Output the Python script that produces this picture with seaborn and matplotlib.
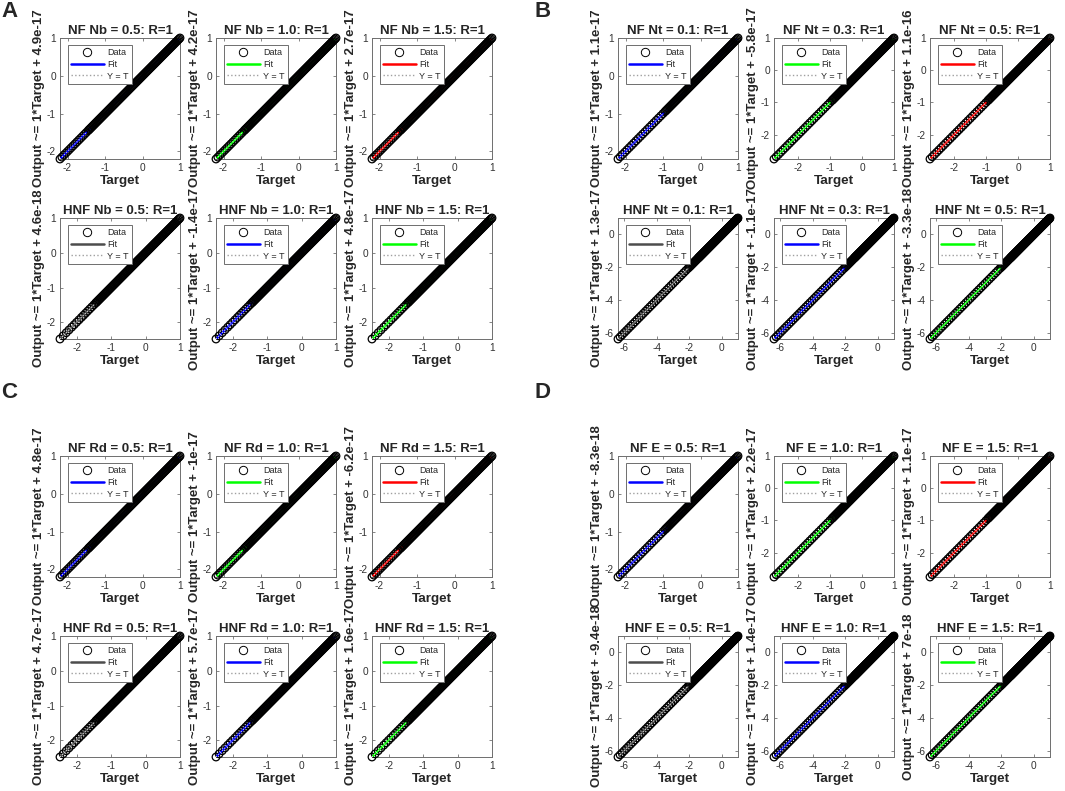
import matplotlib
matplotlib.use('Agg')
import matplotlib.pyplot as plt
from matplotlib.lines import Line2D
from matplotlib.ticker import MultipleLocator
import seaborn as sns

# --- target values (output == target, R=1) ---
# upper stretch where the circles pile up into a solid band
dense_upper = [-0.95, -0.925, -0.9, -0.875, -0.85, -0.825, -0.8, -0.775, -0.75, -0.725,
               -0.7, -0.675, -0.65, -0.625, -0.6, -0.575, -0.55, -0.525, -0.5, -0.475,
               -0.45, -0.425, -0.4, -0.375, -0.35, -0.325, -0.3, -0.275, -0.25, -0.225,
               -0.2, -0.175, -0.15, -0.125, -0.1, -0.075, -0.05, -0.025, 0.0, 0.025,
               0.05, 0.075, 0.1, 0.125, 0.15, 0.175, 0.2, 0.225, 0.25, 0.275,
               0.3, 0.325, 0.35, 0.375, 0.4, 0.425, 0.45, 0.475, 0.5, 0.525,
               0.55, 0.575, 0.6, 0.625, 0.65, 0.675, 0.7, 0.725, 0.75, 0.775,
               0.8, 0.825, 0.85, 0.875, 0.9, 0.925, 0.95, 0.975, 1.0]
dense_mid = [-1.45, -1.425, -1.4, -1.375, -1.35, -1.325, -1.3, -1.275, -1.25, -1.225,
             -1.2, -1.175, -1.15, -1.125, -1.1, -1.075, -1.05, -1.025, -1.0, -0.975]
dense_low6 = [-2.0, -1.95, -1.9, -1.85, -1.8, -1.75, -1.7, -1.65, -1.6, -1.55, -1.5]

# lower stretch where single circles can still be told apart
sparse_nf_a = [-2.2, -2.15, -2.1, -2.05, -2.0, -1.95, -1.9, -1.85, -1.8, -1.75,
               -1.7, -1.65, -1.6, -1.55, -1.5]
sparse_nf_b = [-2.2, -2.14, -2.08, -2.02, -1.96, -1.9, -1.84, -1.78, -1.72, -1.66,
               -1.6, -1.54, -1.48, -1.42, -1.36, -1.3, -1.24, -1.18, -1.12, -1.06, -1.0]
sparse_nf_c = [-2.76, -2.69, -2.62, -2.55, -2.48, -2.41, -2.34, -2.27, -2.2, -2.13,
               -2.06, -1.99, -1.92, -1.85, -1.78, -1.71, -1.64, -1.57, -1.5, -1.43,
               -1.36, -1.29, -1.22, -1.15, -1.08, -1.01]
sparse_hnf_a = [-2.48, -2.39, -2.3, -2.22, -2.14, -2.07, -2.0, -1.93, -1.86, -1.8,
                -1.74, -1.68, -1.62, -1.56, -1.5]
sparse_hnf_b = [-6.37, -6.24, -6.11, -5.98, -5.85, -5.72, -5.59, -5.46, -5.33, -5.2,
                -5.07, -4.94, -4.81, -4.68, -4.55, -4.42, -4.29, -4.16, -4.03, -3.9,
                -3.77, -3.64, -3.51, -3.38, -3.25, -3.12, -2.99, -2.86, -2.73, -2.6,
                -2.47, -2.34, -2.21, -2.08]

sparse = {
    'nf_a': sparse_nf_a, 'nf_b': sparse_nf_b, 'nf_c': sparse_nf_c,
    'hnf_a': sparse_hnf_a, 'hnf_b': sparse_hnf_b,
}
targets = {
    'nf_a': sparse_nf_a + dense_mid + dense_upper,
    'nf_b': sparse_nf_b + dense_upper,
    'nf_c': sparse_nf_c + dense_upper,
    'hnf_a': sparse_hnf_a + dense_mid + dense_upper,
    'hnf_b': sparse_hnf_b + dense_low6 + dense_mid + dense_upper,
}

panel_letters = ['A', 'B', 'C', 'D']
param_names = ['Nb', 'Nt', 'Rd', 'E']
param_values = [['0.5', '1.0', '1.5'], ['0.1', '0.3', '0.5'],
                ['0.5', '1.0', '1.5'], ['0.5', '1.0', '1.5']]
nf_intercepts = [['4.9e-17', '4.2e-17', '2.7e-17'], ['1.1e-17', '-5.8e-17', '1.1e-16'],
                 ['4.8e-17', '-1e-17', '-6.2e-17'], ['-8.3e-18', '2.2e-17', '1.1e-17']]
hnf_intercepts = [['4.6e-18', '-1.4e-17', '4.8e-17'], ['1.3e-17', '-1.1e-17', '-3.3e-18'],
                  ['4.7e-17', '5.7e-17', '1.6e-17'], ['-9.4e-18', '1.4e-17', '7e-18']]
nf_sets = [['nf_a', 'nf_a', 'nf_a'], ['nf_b', 'nf_c', 'nf_c'],
           ['nf_a', 'nf_a', 'nf_a'], ['nf_b', 'nf_c', 'nf_c']]
hnf_sets = [['hnf_a'] * 3, ['hnf_b'] * 3, ['hnf_a'] * 3, ['hnf_b'] * 3]
nf_colors = ['#0000ff', '#00ff00', '#ff0000']
hnf_colors = ['#4d4d4d', '#0000ff', '#00ff00']

sns.set_style('ticks')
plt.rcParams['font.family'] = ['Liberation Sans', 'DejaVu Sans']
plt.rcParams['axes.unicode_minus'] = False

W, H = 1065, 791
fig = plt.figure(figsize=(W / 100, H / 100), dpi=100)

col_left = [60, 216, 372]
row_top = [38, 218]
panel_dx = [0, 558, 0, 558]
panel_dy = [0, 0, 418, 418]
letter_pos = [(1, 1), (534, 1), (1, 382), (534, 382)]


def draw(ax, t, low, color, title, ylab):
    lo, hi = min(t), max(t)
    sns.lineplot(x=[lo, hi], y=[lo, hi], ax=ax, color=color, lw=1.8, zorder=2)
    sns.lineplot(x=[lo, hi], y=[lo, hi], ax=ax, color='#a0a0a0', lw=1.0,
                 linestyle=':', zorder=2.5)
    sns.scatterplot(x=t, y=t, ax=ax, marker='o', s=30, zorder=3, clip_on=False)
    pts = ax.collections[-1]
    pts.set_facecolor('none')
    pts.set_edgecolor('black')
    pts.set_linewidth(0.9)
    # fit shows through where the circles thin out
    sns.lineplot(x=low, y=low, ax=ax, color=color, lw=1.3, zorder=4)
    sns.lineplot(x=low, y=low, ax=ax, color='#d8d8d8', lw=0.8,
                 linestyle=':', zorder=4.5)

    ax.set_xlim(lo, hi)
    ax.set_ylim(lo, hi)
    step = 2 if hi - lo > 5 else 1
    ax.xaxis.set_major_locator(MultipleLocator(step))
    ax.yaxis.set_major_locator(MultipleLocator(step))
    ax.tick_params(direction='in', length=2.5, width=0.5, top=True, right=True,
                   labelsize=7.3, color='#555555', labelcolor='#333333', pad=3)
    for sp in ax.spines.values():
        sp.set_color('#6e6e6e')
        sp.set_linewidth(0.7)

    ax.set_title(title, fontsize=9.5, fontweight='bold', pad=3)
    ax.set_xlabel('Target', fontsize=9.7, fontweight='bold', labelpad=1)
    ax.set_ylabel(ylab, fontsize=9.5, fontweight='bold', labelpad=1)

    handles = [
        Line2D([], [], marker='o', ls='none', markerfacecolor='none',
               markeredgecolor='black', markersize=6, markeredgewidth=0.7),
        Line2D([], [], color=color, lw=1.8),
        Line2D([], [], color='#a0a0a0', lw=1.0, ls=':'),
    ]
    leg = ax.legend(handles, ['Data', 'Fit', 'Y = T'], loc='upper left',
                    bbox_to_anchor=(8 / 120, 1 - 7 / 121), borderaxespad=0,
                    fontsize=6.5, handlelength=3.6, handletextpad=0.4,
                    labelspacing=0.3, borderpad=0.35, fancybox=False,
                    framealpha=1, edgecolor='#6e6e6e')
    leg.get_frame().set_linewidth(0.7)
    leg.set_zorder(6)


for p in range(4):
    for r in range(2):
        for c in range(3):
            left = col_left[c] + panel_dx[p]
            top = row_top[r] + panel_dy[p]
            ax = fig.add_axes([left / W, 1 - (top + 121) / H, 120 / W, 121 / H])
            group = 'NF' if r == 0 else 'HNF'
            key = nf_sets[p][c] if r == 0 else hnf_sets[p][c]
            color = nf_colors[c] if r == 0 else hnf_colors[c]
            icpt = nf_intercepts[p][c] if r == 0 else hnf_intercepts[p][c]
            title = f'{group} {param_names[p]} = {param_values[p][c]}: R=1'
            draw(ax, targets[key], sparse[key], color, title,
                 f'Output ~= 1*Target + {icpt}')
    lx, ly = letter_pos[p]
    fig.text(lx / W, 1 - ly / H, panel_letters[p], fontsize=16, fontweight='bold',
             ha='left', va='top')

fig.savefig('out.png', dpi=100)
